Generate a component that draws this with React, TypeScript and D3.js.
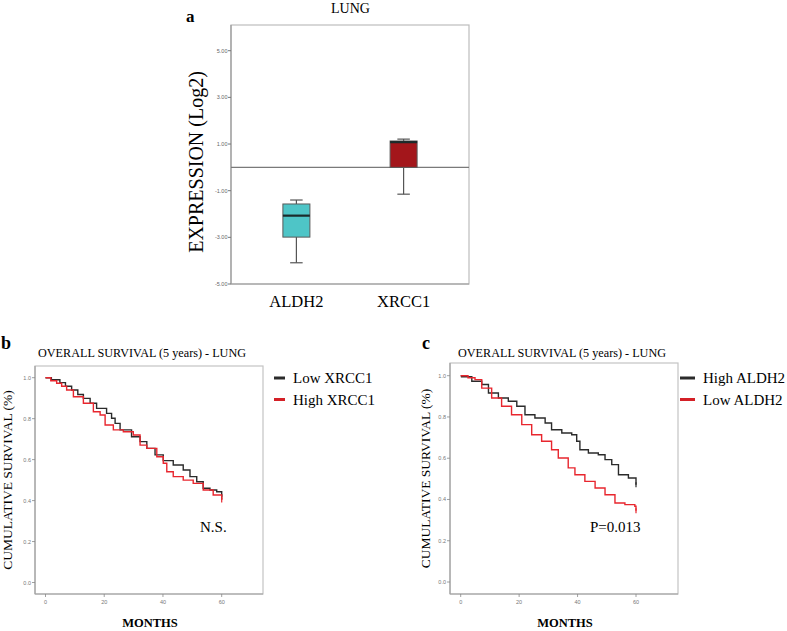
import React from "react";
import * as d3 from "d3";

// ---------- Panel a data ----------
const BOX_CATS = ["ALDH2", "XRCC1"];
const BOX_WHISK_LO = [-4.09, -1.15];
const BOX_Q1 = [-2.99, 0.0];
const BOX_MED = [-2.07, 1.08];
const BOX_Q3 = [-1.57, 1.13];
const BOX_WHISK_HI = [-1.4, 1.21];
const BOX_COLORS = ["#4ec5c7", "#a3161b"];
const EXPR_TICKS = [5, 3, 1, -1, -3, -5];

// ---------- Panel b data ----------
const B_LOW_T = [0, 2.0, 4.9, 6.8, 8.9, 11.0, 12.9, 15.2, 17.4, 20.8, 22.5, 23.7, 25.4, 29.3, 32.2, 34.5, 37.3, 40.1, 43.5, 46.9, 49.2, 51.5, 53.7, 56.0, 58.3, 60.0];
const B_LOW_S = [1.0, 0.99, 0.976, 0.958, 0.94, 0.918, 0.899, 0.875, 0.85, 0.826, 0.802, 0.777, 0.745, 0.712, 0.688, 0.655, 0.623, 0.595, 0.574, 0.549, 0.517, 0.492, 0.46, 0.452, 0.443, 0.419];
const B_HIGH_T = [0, 1.8, 3.8, 5.5, 7.2, 9.5, 12.9, 16.3, 18.6, 20.3, 23.1, 26.5, 29.9, 32.2, 34.5, 37.9, 40.1, 41.3, 43.5, 46.9, 50.3, 53.7, 57.1, 60.0];
const B_HIGH_S = [1.0, 0.985, 0.973, 0.958, 0.94, 0.907, 0.875, 0.834, 0.818, 0.769, 0.745, 0.736, 0.72, 0.671, 0.655, 0.614, 0.582, 0.541, 0.517, 0.5, 0.484, 0.452, 0.427, 0.403];
const B_LEGEND = ["Low XRCC1", "High XRCC1"];

// ---------- Panel c data ----------
const C_HIGH_T = [0, 0.3, 3.8, 7.2, 9.5, 12.9, 16.3, 19.2, 22.0, 25.4, 28.9, 31.1, 34.6, 38.0, 39.7, 40.8, 43.7, 47.1, 49.4, 51.7, 54.0, 57.4, 60.0];
const C_HIGH_S = [1.0, 0.995, 0.973, 0.957, 0.916, 0.892, 0.876, 0.852, 0.811, 0.795, 0.771, 0.738, 0.722, 0.714, 0.682, 0.641, 0.625, 0.617, 0.593, 0.569, 0.52, 0.504, 0.472];
const C_LOW_T = [0, 2.5, 4.9, 7.2, 10.6, 14.0, 17.4, 20.9, 24.3, 27.7, 31.1, 33.4, 36.8, 39.1, 42.5, 46.0, 49.4, 52.8, 56.2, 59.6, 60.0];
const C_LOW_S = [1.0, 0.99, 0.981, 0.94, 0.892, 0.852, 0.811, 0.763, 0.714, 0.682, 0.641, 0.601, 0.553, 0.52, 0.488, 0.456, 0.423, 0.383, 0.375, 0.367, 0.345];
const C_LEGEND = ["High ALDH2", "Low ALDH2"];

const SURV_TICKS = [1.0, 0.8, 0.6, 0.4, 0.2, 0.0];
const MONTH_TICKS = [0, 20, 40, 60];

const SERIF = "'Liberation Serif', 'Times New Roman', serif";
const SANS = "'Liberation Sans', Arial, sans-serif";
const KM_BLACK = "#2b2b2b";
const KM_RED = "#e8262e";

function BoxPanel() {
  const left = 231, right = 469, top = 25, bottom = 284;
  const y = d3.scaleLinear().domain([-5, 5]).range([284, 50.7]);
  const x = d3.scalePoint<string>().domain(BOX_CATS).range([left, right]).padding(0.61);
  const bw = 27;
  const cap = 12.5;
  return (
    <g>
      <text x={186} y={21.5} fontFamily={SERIF} fontWeight="bold" fontSize={17}>a</text>
      <text x={350.5} y={13} fontFamily={SERIF} fontSize={14} textAnchor="middle">LUNG</text>
      <rect x={left} y={top} width={right - left} height={bottom - top} fill="none" stroke="#bdbdbd" strokeWidth={1.2} />
      <line x1={left} x2={left} y1={top} y2={bottom} stroke="#9a9a9a" strokeWidth={1.2} />
      <line x1={left} x2={right} y1={bottom} y2={bottom} stroke="#9a9a9a" strokeWidth={1.2} />
      {EXPR_TICKS.map((t) => (
        <g key={t}>
          <line x1={left - 3} x2={left} y1={y(t)} y2={y(t)} stroke="#777" strokeWidth={1} />
          <text x={left - 3.5} y={y(t) + 2} fontFamily={SANS} fontSize={5.5} fill="#666" textAnchor="end">{t.toFixed(2)}</text>
        </g>
      ))}
      <line x1={left} x2={right} y1={y(0)} y2={y(0)} stroke="#7a7a7a" strokeWidth={1.2} />
      {BOX_CATS.map((c, i) => {
        const cx = x(c)!;
        return (
          <g key={c}>
            <line x1={cx} x2={cx} y1={y(BOX_WHISK_HI[i])} y2={y(BOX_Q3[i])} stroke="#555" strokeWidth={1.2} />
            <line x1={cx} x2={cx} y1={y(BOX_Q1[i])} y2={y(BOX_WHISK_LO[i])} stroke="#555" strokeWidth={1.2} />
            <line x1={cx - cap / 2} x2={cx + cap / 2} y1={y(BOX_WHISK_HI[i])} y2={y(BOX_WHISK_HI[i])} stroke="#555" strokeWidth={1.2} />
            <line x1={cx - cap / 2} x2={cx + cap / 2} y1={y(BOX_WHISK_LO[i])} y2={y(BOX_WHISK_LO[i])} stroke="#555" strokeWidth={1.2} />
            <rect x={cx - bw / 2} y={y(BOX_Q3[i])} width={bw} height={y(BOX_Q1[i]) - y(BOX_Q3[i])} fill={BOX_COLORS[i]} stroke="#5a5a5a" strokeWidth={1} />
            <line x1={cx - bw / 2} x2={cx + bw / 2} y1={y(BOX_MED[i])} y2={y(BOX_MED[i])} stroke="#1b2b2b" strokeWidth={2.2} />
            <text x={cx} y={307} fontFamily={SERIF} fontSize={16.5} textAnchor="middle">{c}</text>
          </g>
        );
      })}
      <text transform={`translate(203,162) rotate(-90)`} fontFamily={SERIF} fontSize={20} textAnchor="middle">EXPRESSION (Log2)</text>
    </g>
  );
}

type KMProps = {
  letter: string;
  letterX: number;
  titleX: number;
  frame: { l: number; t: number; r: number; b: number };
  xr: [number, number];
  yr: [number, number];
  series: { t: number[]; s: number[]; color: string }[];
  legend: string[];
  legLine: [number, number];
  legTextX: number;
  note: string;
  noteX: number;
  ylabX: number;
};

function KMPanel(p: KMProps) {
  const x = d3.scaleLinear().domain([0, 60]).range(p.xr);
  const y = d3.scaleLinear().domain([0, 1]).range(p.yr);
  const line = d3
    .line<[number, number]>()
    .x((d) => x(d[0]))
    .y((d) => y(d[1]))
    .curve(d3.curveStepAfter);
  const { l, t, r, b } = p.frame;
  const legColors = [KM_BLACK, "#d42027"];
  return (
    <g>
      <text x={p.letterX} y={349} fontFamily={SERIF} fontWeight="bold" fontSize={18}>{p.letter}</text>
      <text x={p.titleX} y={357} fontFamily={SERIF} fontSize={11.5} textLength={208} lengthAdjust="spacingAndGlyphs">OVERALL  SURVIVAL  (5 years) - LUNG</text>
      <rect x={l} y={t} width={r - l} height={b - t} fill="none" stroke="#c4c4c4" strokeWidth={1.2} />
      <line x1={l} x2={l} y1={t} y2={b} stroke="#a0a0a0" strokeWidth={1.2} />
      <line x1={l} x2={r} y1={b} y2={b} stroke="#a0a0a0" strokeWidth={1.2} />
      {SURV_TICKS.map((v) => (
        <g key={v}>
          <line x1={l - 3} x2={l} y1={y(v)} y2={y(v)} stroke="#888" strokeWidth={0.8} />
          <text x={l - 4} y={y(v) + 2} fontFamily={SANS} fontSize={5.5} fill="#777" textAnchor="end">{v.toFixed(1)}</text>
        </g>
      ))}
      {MONTH_TICKS.map((v) => (
        <g key={v}>
          <line x1={x(v)} x2={x(v)} y1={b} y2={b + 3} stroke="#888" strokeWidth={0.8} />
          <text x={x(v)} y={b + 10} fontFamily={SANS} fontSize={5.5} fill="#777" textAnchor="middle">{v}</text>
        </g>
      ))}
      {p.series.map((s, i) => {
        const pts: [number, number][] = s.t.map((tt, j) => [tt, s.s[j]]);
        return (
          <g key={i}>
            <path d={line(pts)!} fill="none" stroke={s.color} strokeWidth={1.4} />
            <line x1={x(s.t[s.t.length - 1])} x2={x(s.t[s.t.length - 1])} y1={y(s.s[s.s.length - 1]) - 2.5} y2={y(s.s[s.s.length - 1]) + 2.5} stroke={s.color} strokeWidth={1.2} />
          </g>
        );
      })}
      {p.legend.map((lab, i) => (
        <g key={lab}>
          <line x1={p.legLine[0]} x2={p.legLine[1]} y1={378 + i * 21.5} y2={378 + i * 21.5} stroke={legColors[i]} strokeWidth={3} />
          <text x={p.legTextX} y={383 + i * 21.5} fontFamily={SERIF} fontSize={15}>{lab}</text>
        </g>
      ))}
      <text x={p.noteX} y={532} fontFamily={SERIF} fontSize={15}>{p.note}</text>
      <text x={(l + r) / 2 + 1} y={627} fontFamily={SERIF} fontWeight="bold" fontSize={12.5} textAnchor="middle">MONTHS</text>
      <text transform={`translate(${p.ylabX},${(t + b) / 2})  rotate(-90)`} fontFamily={SERIF} fontSize={13.5} textAnchor="middle">CUMULATIVE SURVIVAL (%)</text>
    </g>
  );
}

export default function App() {
  return (
    <svg width={787} height={631} style={{ position: "absolute", left: 0, top: 0, background: "#fff" }}>
      <rect x={0} y={0} width={787} height={631} fill="#fff" />
      <BoxPanel />
      <KMPanel
        letter="b"
        letterX={1}
        titleX={38}
        frame={{ l: 35, t: 366, r: 263, b: 594 }}
        xr={[45.5, 221.7]}
        yr={[582.5, 377.7]}
        series={[
          { t: B_LOW_T, s: B_LOW_S, color: KM_BLACK },
          { t: B_HIGH_T, s: B_HIGH_S, color: KM_RED },
        ]}
        legend={B_LEGEND}
        legLine={[274, 285]}
        legTextX={293}
        note="N.S."
        noteX={200}
        ylabX={12}
      />
      <KMPanel
        letter="c"
        letterX={422}
        titleX={458}
        frame={{ l: 450, t: 363, r: 678, b: 594 }}
        xr={[460.7, 636]}
        yr={[582, 375.7]}
        series={[
          { t: C_HIGH_T, s: C_HIGH_S, color: KM_BLACK },
          { t: C_LOW_T, s: C_LOW_S, color: KM_RED },
        ]}
        legend={C_LEGEND}
        legLine={[680, 695]}
        legTextX={703}
        note="P=0.013"
        noteX={590}
        ylabX={430}
      />
    </svg>
  );
}
